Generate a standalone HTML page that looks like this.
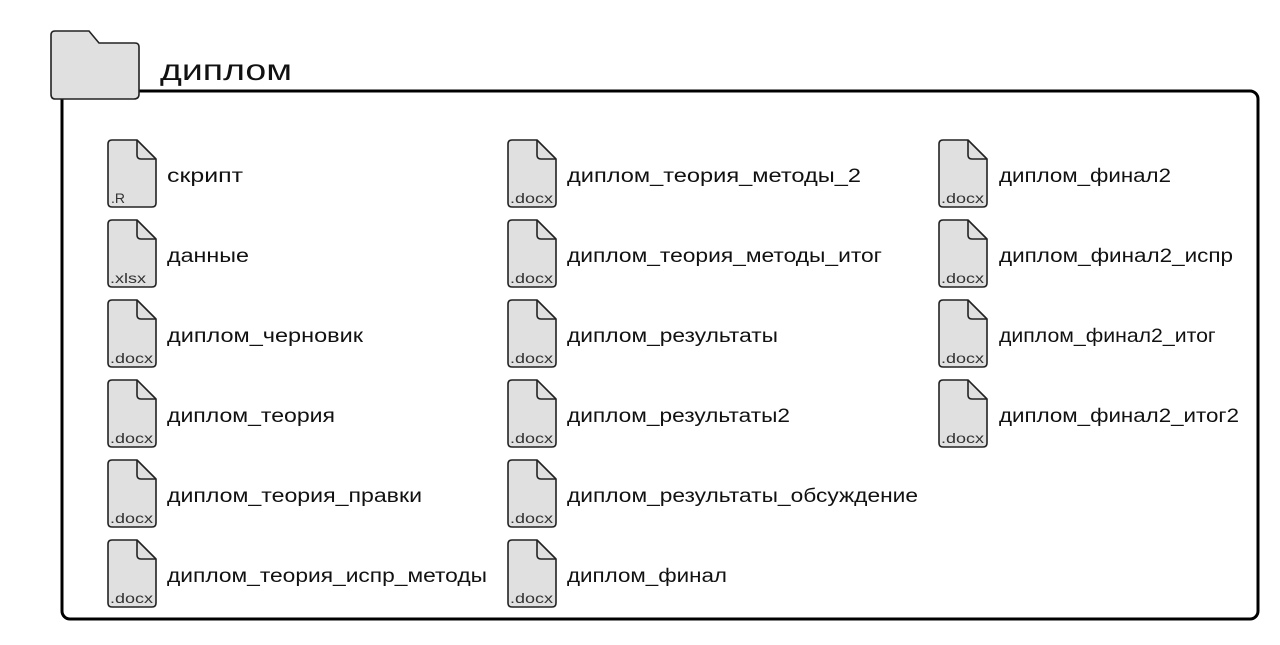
<!DOCTYPE html>
<html><head><meta charset="utf-8"><style>
html,body{margin:0;padding:0;background:#fff;}
svg text{font-family:"Liberation Sans",sans-serif;}
</style></head><body>
<svg width="1280" height="640" viewBox="0 0 1280 640" xmlns="http://www.w3.org/2000/svg">
<defs>
<g id="f">
<path d="M4,0 H29 L48,19 V63 Q48,67 44,67 H4 Q0,67 0,63 V4 Q0,0 4,0 Z" fill="#e0e0e0" stroke="#222" stroke-width="1.6" stroke-linejoin="round"/>
<path d="M29,0 V15 Q29,19 33,19 H48" fill="none" stroke="#222" stroke-width="1.6" stroke-linejoin="round"/>
</g>
</defs>
<rect x="62" y="91" width="1196" height="528" rx="8" fill="none" stroke="#000" stroke-width="3"/>
<path d="M55,31 H89 L99,43 H135 Q139,43 139,47 V94 Q139,99 134,99 H55 Q51,99 51,94 V35 Q51,31 55,31 Z" fill="#e0e0e0" stroke="#222" stroke-width="1.6"/>
<text x="160" y="80" font-size="30" fill="#111" textLength="132" lengthAdjust="spacingAndGlyphs">диплом</text>
<g font-size="19" fill="#111">
<use href="#f" x="108" y="140"/><text x="111" y="203" font-size="14" fill="#333">.R</text><text x="167" y="182" textLength="76" lengthAdjust="spacingAndGlyphs">скрипт</text>
<use href="#f" x="108" y="220"/><text x="110" y="283" font-size="14" fill="#333" textLength="36" lengthAdjust="spacingAndGlyphs">.xlsx</text><text x="167" y="262" textLength="82" lengthAdjust="spacingAndGlyphs">данные</text>
<use href="#f" x="108" y="300"/><text x="110" y="363" font-size="14" fill="#333" textLength="43" lengthAdjust="spacingAndGlyphs">.docx</text><text x="167" y="342" textLength="196" lengthAdjust="spacingAndGlyphs">диплом_черновик</text>
<use href="#f" x="108" y="380"/><text x="110" y="443" font-size="14" fill="#333" textLength="43" lengthAdjust="spacingAndGlyphs">.docx</text><text x="167" y="422" textLength="168" lengthAdjust="spacingAndGlyphs">диплом_теория</text>
<use href="#f" x="108" y="460"/><text x="110" y="523" font-size="14" fill="#333" textLength="43" lengthAdjust="spacingAndGlyphs">.docx</text><text x="167" y="502" textLength="255" lengthAdjust="spacingAndGlyphs">диплом_теория_правки</text>
<use href="#f" x="108" y="540"/><text x="110" y="603" font-size="14" fill="#333" textLength="43" lengthAdjust="spacingAndGlyphs">.docx</text><text x="167" y="582" textLength="320" lengthAdjust="spacingAndGlyphs">диплом_теория_испр_методы</text>

<use href="#f" x="508" y="140"/><text x="510" y="203" font-size="14" fill="#333" textLength="43" lengthAdjust="spacingAndGlyphs">.docx</text><text x="567" y="182" textLength="294" lengthAdjust="spacingAndGlyphs">диплом_теория_методы_2</text>
<use href="#f" x="508" y="220"/><text x="510" y="283" font-size="14" fill="#333" textLength="43" lengthAdjust="spacingAndGlyphs">.docx</text><text x="567" y="262" textLength="315" lengthAdjust="spacingAndGlyphs">диплом_теория_методы_итог</text>
<use href="#f" x="508" y="300"/><text x="510" y="363" font-size="14" fill="#333" textLength="43" lengthAdjust="spacingAndGlyphs">.docx</text><text x="567" y="342" textLength="211" lengthAdjust="spacingAndGlyphs">диплом_результаты</text>
<use href="#f" x="508" y="380"/><text x="510" y="443" font-size="14" fill="#333" textLength="43" lengthAdjust="spacingAndGlyphs">.docx</text><text x="567" y="422" textLength="223" lengthAdjust="spacingAndGlyphs">диплом_результаты2</text>
<use href="#f" x="508" y="460"/><text x="510" y="523" font-size="14" fill="#333" textLength="43" lengthAdjust="spacingAndGlyphs">.docx</text><text x="567" y="502" textLength="351" lengthAdjust="spacingAndGlyphs">диплом_результаты_обсуждение</text>
<use href="#f" x="508" y="540"/><text x="510" y="603" font-size="14" fill="#333" textLength="43" lengthAdjust="spacingAndGlyphs">.docx</text><text x="567" y="582" textLength="160" lengthAdjust="spacingAndGlyphs">диплом_финал</text>

<use href="#f" x="939" y="140"/><text x="941" y="203" font-size="14" fill="#333" textLength="43" lengthAdjust="spacingAndGlyphs">.docx</text><text x="999" y="182" textLength="172" lengthAdjust="spacingAndGlyphs">диплом_финал2</text>
<use href="#f" x="939" y="220"/><text x="941" y="283" font-size="14" fill="#333" textLength="43" lengthAdjust="spacingAndGlyphs">.docx</text><text x="999" y="262" textLength="234" lengthAdjust="spacingAndGlyphs">диплом_финал2_испр</text>
<use href="#f" x="939" y="300"/><text x="941" y="363" font-size="14" fill="#333" textLength="43" lengthAdjust="spacingAndGlyphs">.docx</text><text transform="translate(999,342) scale(1.12,1)" x="0" y="0" font-size="19" fill="#111">диплом_финал2_итог</text>
<use href="#f" x="939" y="380"/><text x="941" y="443" font-size="14" fill="#333" textLength="43" lengthAdjust="spacingAndGlyphs">.docx</text><text x="999" y="422" textLength="240" lengthAdjust="spacingAndGlyphs">диплом_финал2_итог2</text>
</g>
</svg>
</body></html>
